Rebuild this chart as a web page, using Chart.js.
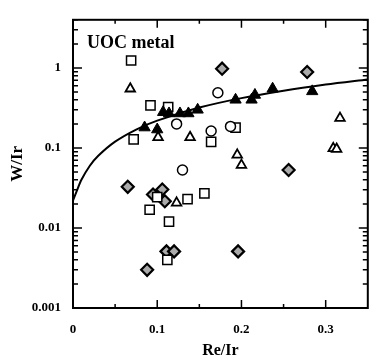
<!DOCTYPE html>
<html>
<head>
<meta charset="utf-8">
<script src="https://cdn.jsdelivr.net/npm/chart.js@4"></script>
<style>
html, body { margin: 0; padding: 0; background: #fff; }
</style>
</head>
<body>
<canvas id="plot" width="376" height="360"></canvas>
<script>
// W/Ir against Re/Ir, UOC metal
var filledTriX = [0.085, 0.100, 0.107, 0.114, 0.127, 0.137, 0.148, 0.193, 0.212, 0.216, 0.237, 0.284];
var filledTriY = [0.18, 0.17, 0.28, 0.27, 0.27, 0.27, 0.30, 0.40, 0.40, 0.46, 0.55, 0.51];

var openTriX = [0.068, 0.101, 0.139, 0.195, 0.200, 0.317, 0.309, 0.313, 0.123];
var openTriY = [0.55, 0.136, 0.136, 0.082, 0.061, 0.236, 0.099, 0.097, 0.0206];

var circleX = [0.123, 0.130, 0.172, 0.164, 0.187];
var circleY = [0.20, 0.053, 0.49, 0.163, 0.186];

var squareX = [0.069, 0.092, 0.113, 0.072, 0.164, 0.193, 0.100, 0.091, 0.114, 0.136, 0.156, 0.112];
var squareY = [1.24, 0.34, 0.325, 0.128, 0.119, 0.18, 0.0243, 0.0169, 0.0120, 0.0230, 0.0271, 0.0040];

var diamondX = [0.177, 0.278, 0.256, 0.065, 0.095, 0.106, 0.109, 0.111, 0.120, 0.196, 0.088];
var diamondY = [0.98, 0.89, 0.053, 0.0327, 0.0262, 0.0303, 0.0216, 0.0051, 0.0051, 0.0051, 0.0030];

// fitted curve
var curveX = [0, 0.005, 0.01, 0.02, 0.03, 0.05, 0.075, 0.1, 0.15, 0.2, 0.25, 0.3, 0.35];
var curveY = [0.022, 0.03, 0.04, 0.06, 0.08, 0.12, 0.17, 0.22, 0.32, 0.42, 0.52, 0.62, 0.72];

var xMajor = [0, 0.1, 0.2, 0.3];
var xMinor = [0.05, 0.15, 0.25];
var xTickLabels = ['0', '0.1', '0.2', '0.3'];
var yMajor = [0.001, 0.01, 0.1, 1];
var yTickLabels = ['0.001', '0.01', '0.1', '1'];

function pts(xs, ys) {
    return xs.map(function (x, i) { return { x: x, y: ys[i] }; });
}

var serif = 'Liberation Serif';

// frame, inward tick marks and the label inside the plot
var frameTicks = {
    id: 'frameTicks',
    afterDatasetsDraw: function (chart) {
        var ctx = chart.ctx, a = chart.chartArea;
        var xs = chart.scales.x, ys = chart.scales.y;
        ctx.save();
        ctx.strokeStyle = '#000';
        ctx.lineWidth = 2;
        ctx.strokeRect(a.left, a.top, a.right - a.left, a.bottom - a.top);

        ctx.lineWidth = 1.5;
        ctx.beginPath();
        function xTick(v, len) {
            var p = xs.getPixelForValue(v);
            ctx.moveTo(p, a.bottom); ctx.lineTo(p, a.bottom - len);
            ctx.moveTo(p, a.top); ctx.lineTo(p, a.top + len);
        }
        function yTick(v, len) {
            var p = ys.getPixelForValue(v);
            if (p < a.top - 0.5 || p > a.bottom + 0.5) return;
            ctx.moveTo(a.left, p); ctx.lineTo(a.left + len, p);
            ctx.moveTo(a.right, p); ctx.lineTo(a.right - len, p);
        }
        xMajor.forEach(function (v) { xTick(v, 8); });
        xMinor.forEach(function (v) { xTick(v, 4); });
        yMajor.forEach(function (d) {
            yTick(d, 9);
            for (var k = 2; k <= 9; k++) yTick(d * k, 5);
        });
        ctx.stroke();

        ctx.fillStyle = '#000';
        ctx.font = 'bold 18px "' + serif + '"';
        ctx.textBaseline = 'alphabetic';
        ctx.fillText('UOC metal', a.left + 14, a.top + 28);
        ctx.restore();
    }
};

var ctx = document.getElementById('plot').getContext('2d');
var chart = new Chart(ctx, {
    type: 'scatter',
    data: {
        datasets: [
            {
                label: 'filled triangles',
                data: pts(filledTriX, filledTriY),
                pointStyle: 'triangle',
                pointRadius: 6.5,
                backgroundColor: '#000',
                borderColor: '#000',
                borderWidth: 1
            },
            {
                label: 'circles',
                data: pts(circleX, circleY),
                pointStyle: 'circle',
                pointRadius: 5,
                backgroundColor: '#fff',
                borderColor: '#000',
                borderWidth: 1.5
            },
            {
                label: 'open triangles',
                data: pts(openTriX, openTriY),
                pointStyle: 'triangle',
                pointRadius: 5.5,
                backgroundColor: '#fff',
                borderColor: '#000',
                borderWidth: 1.8
            },
            {
                label: 'squares',
                data: pts(squareX, squareY),
                pointStyle: 'rect',
                pointRadius: 6.5,
                backgroundColor: '#fff',
                borderColor: '#000',
                borderWidth: 1.5
            },
            {
                label: 'diamonds',
                data: pts(diamondX, diamondY),
                pointStyle: 'rectRot',
                pointRadius: 6,
                backgroundColor: '#aaaaaa',
                borderColor: '#000',
                borderWidth: 2.2
            },
            {
                label: 'fit',
                data: pts(curveX, curveY),
                showLine: true,
                pointRadius: 0,
                borderColor: '#000',
                borderWidth: 2,
                tension: 0.3,
                fill: false
            }
        ]
    },
    options: {
        responsive: false,
        animation: false,
        events: [],
        layout: { padding: { top: 10, right: 1, left: 0, bottom: 0 } },
        plugins: {
            legend: { display: false },
            tooltip: { enabled: false }
        },
        scales: {
            x: {
                type: 'linear',
                min: 0,
                max: 0.35,
                grid: { display: false, drawTicks: false },
                border: { display: false },
                afterBuildTicks: function (s) {
                    s.ticks = xMajor.map(function (v) { return { value: v }; });
                },
                afterFit: function (s) { s.height = 52; },
                ticks: {
                    padding: 14,
                    color: '#000',
                    font: { family: serif, size: 13, weight: 'bold' },
                    callback: function (v, i) { return xTickLabels[i]; }
                },
                title: {
                    display: true,
                    text: 'Re/Ir',
                    color: '#000',
                    padding: { top: 0, bottom: 0 },
                    font: { family: serif, size: 16, weight: 'bold' }
                }
            },
            y: {
                type: 'logarithmic',
                min: 0.001,
                max: 4,
                grid: { display: false, drawTicks: false },
                border: { display: false },
                afterBuildTicks: function (s) {
                    s.ticks = yMajor.map(function (v) { return { value: v }; });
                },
                afterFit: function (s) { s.width = 73; },
                ticks: {
                    padding: 12,
                    color: '#000',
                    font: { family: serif, size: 13, weight: 'bold' },
                    callback: function (v, i) { return yTickLabels[i]; }
                },
                title: {
                    display: true,
                    text: 'W/Ir',
                    color: '#000',
                    padding: { top: 7, bottom: 0 },
                    font: { family: serif, size: 17, weight: 'bold' }
                }
            }
        }
    },
    plugins: [frameTicks]
});
</script>
</body>
</html>
